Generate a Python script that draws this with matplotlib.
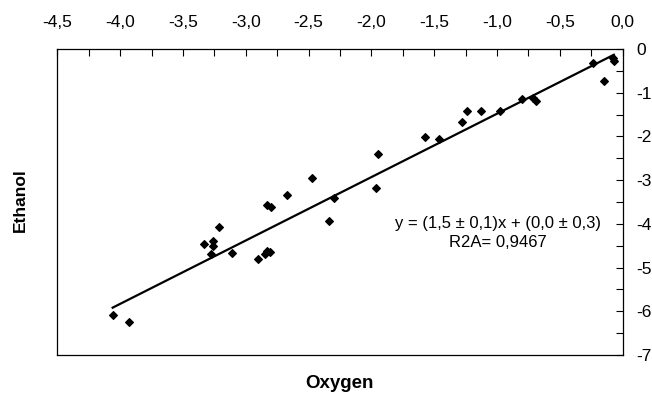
import numpy as np
import matplotlib.pyplot as plt
from matplotlib.ticker import MultipleLocator, FuncFormatter

plt.rcParams['font.family'] = ['Liberation Sans', 'DejaVu Sans']

# данные
oxygen = [-0.24, -0.15, -0.08, -0.07, -0.80, -0.71, -0.69, -0.98, -1.13, -1.24,
          -1.28, -1.46, -1.57, -1.95, -1.96, -2.47, -2.30, -2.34, -2.67, -2.83,
          -2.80, -3.21, -3.33, -3.26, -3.26, -3.28, -3.11, -2.90, -2.85, -2.83,
          -2.81, -4.06, -3.93]
ethanol = [-0.33, -0.73, -0.21, -0.28, -1.14, -1.13, -1.18, -1.41, -1.41, -1.41,
           -1.67, -2.07, -2.01, -2.41, -3.18, -2.96, -3.40, -3.93, -3.34, -3.56,
           -3.61, -4.08, -4.46, -4.40, -4.50, -4.69, -4.66, -4.80, -4.69, -4.63,
           -4.65, -6.09, -6.24]
slope = 1.45
intercept = -0.03

fig = plt.figure(figsize=(6.52, 4.0), dpi=100)
ax = fig.add_axes([0.088, 0.1125, 0.867, 0.765])

ax.scatter(oxygen, ethanol, marker='D', s=15, color='black', zorder=3)
x_line = np.array([min(oxygen), max(oxygen)])
ax.plot(x_line, slope * x_line + intercept, color='black', lw=1.6)

ax.set_xlim(-4.5, 0)
ax.set_ylim(-7, 0)

# оси сверху и справа
ax.xaxis.tick_top()
ax.yaxis.tick_right()
ax.xaxis.set_major_locator(MultipleLocator(0.5))
ax.xaxis.set_minor_locator(MultipleLocator(0.25))
ax.yaxis.set_major_locator(MultipleLocator(1))
ax.yaxis.set_minor_locator(MultipleLocator(0.5))
ax.xaxis.set_major_formatter(FuncFormatter(lambda v, p: f'{v:.1f}'.replace('.', ',')))
ax.yaxis.set_major_formatter(FuncFormatter(lambda v, p: f'{v:.0f}'))
ax.tick_params(axis='both', which='both', direction='in', labelsize=12.5, width=0.8, length=5)
ax.tick_params(axis='x', pad=14)
ax.tick_params(axis='y', pad=10)
for s in ax.spines.values():
    s.set_linewidth(0.9)

ax.text(0.78, 0.43, 'y = (1,5 ± 0,1)x + (0,0 ± 0,3)', transform=ax.transAxes,
        ha='center', va='center', fontsize=12)
ax.text(0.78, 0.368, 'R2A= 0,9467', transform=ax.transAxes,
        ha='center', va='center', fontsize=12)

fig.text(0.031, 0.5, 'Ethanol', rotation=90, ha='center', va='center',
         fontsize=12.5, fontweight='bold')
fig.text(0.52, 0.04, 'Oxygen', ha='center', va='center',
         fontsize=13.5, fontweight='bold')

fig.savefig('out.png', dpi=100)
